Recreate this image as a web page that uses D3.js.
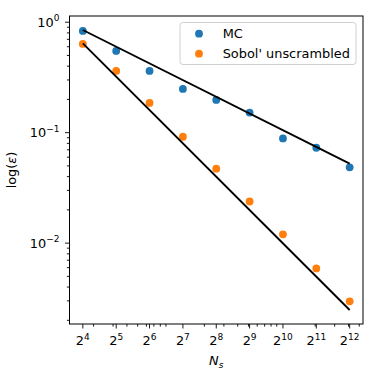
<!DOCTYPE html>
<html>
<head>
<meta charset="utf-8">
<script src="https://cdn.jsdelivr.net/npm/d3@7"></script>
<style>
  body { margin: 0; background: #fff; }
  text { font-family: "DejaVu Sans", sans-serif; }
</style>
</head>
<body>
<script>
// sample sizes (N_s)
const sampleSizes = [16, 32, 64, 128, 256, 512, 1024, 2048, 4096];

// error of plain Monte Carlo
const mcError = [0.833, 0.55, 0.362, 0.249, 0.198, 0.152, 0.0887, 0.073, 0.0485];

// error of unscrambled Sobol'
const sobolError = [0.636, 0.362, 0.186, 0.0918, 0.0472, 0.0238, 0.012, 0.0059, 0.00297];

// fitted reference lines, at the first and last sample size
const fitSizes = [16, 4096];
const mcFit = [0.85, 0.0524];
const sobolFit = [0.643, 0.00248];

const seriesNames = ["MC", "Sobol' unscrambled"];
const colors = ["#1f77b4", "#ff7f0e"];

const xTickExponents = [4, 5, 6, 7, 8, 9, 10, 11, 12];
const yTickExponents = [-2, -1, 0];

const width = 384,
  height = 384;
const margin = { top: 16, right: 21, bottom: 60, left: 69.5 };
const fs = 12.9;

const svg = d3
  .select("body")
  .append("svg")
  .attr("width", width)
  .attr("height", height);

// matplotlib style autoscale: 5% margin in log space
function logPad(vals, base) {
  const lo = Math.log(d3.min(vals)) / Math.log(base),
    hi = Math.log(d3.max(vals)) / Math.log(base);
  const m = (hi - lo) * 0.05;
  return [Math.pow(base, lo - m), Math.pow(base, hi + m)];
}

const allY = [...mcError, ...sobolError, ...mcFit, ...sobolFit];

const x = d3
  .scaleLog()
  .base(2)
  .domain(logPad(sampleSizes, 2))
  .range([margin.left, width - margin.right]);

const y = d3
  .scaleLog()
  .domain(logPad(allY, 10))
  .range([height - margin.bottom, margin.top]);

const x0 = margin.left,
  x1 = width - margin.right,
  y0 = margin.top,
  y1 = height - margin.bottom;

// minor ticks (base-10 subs on both axes)
function minorTicks(domain) {
  const out = [];
  for (let e = -4; e <= 4; e++) {
    for (let k = 2; k <= 9; k++) {
      const v = k * Math.pow(10, e);
      if (v >= domain[0] && v <= domain[1]) out.push(v);
    }
  }
  return out;
}

const ticks = svg.append("g").attr("stroke", "#000").attr("stroke-width", 0.9);

ticks
  .selectAll(".xminor")
  .data(minorTicks(x.domain()))
  .join("line")
  .attr("x1", (d) => x(d))
  .attr("x2", (d) => x(d))
  .attr("y1", y1)
  .attr("y2", y1 + 2.6);

ticks
  .selectAll(".xmajor")
  .data(xTickExponents)
  .join("line")
  .attr("x1", (d) => x(2 ** d))
  .attr("x2", (d) => x(2 ** d))
  .attr("y1", y1)
  .attr("y2", y1 + 4.5);

ticks
  .selectAll(".yminor")
  .data(minorTicks(y.domain()))
  .join("line")
  .attr("x1", x0)
  .attr("x2", x0 - 2.6)
  .attr("y1", (d) => y(d))
  .attr("y2", (d) => y(d));

ticks
  .selectAll(".ymajor")
  .data(yTickExponents)
  .join("line")
  .attr("x1", x0)
  .attr("x2", x0 - 4.5)
  .attr("y1", (d) => y(10 ** d))
  .attr("y2", (d) => y(10 ** d));

// tick labels with superscripts
const xLab = svg
  .selectAll(".xlab")
  .data(xTickExponents)
  .join("text")
  .attr("x", (d) => x(2 ** d))
  .attr("y", y1 + 21)
  .attr("text-anchor", "middle")
  .attr("font-size", fs);
xLab.append("tspan").text("2");
xLab
  .append("tspan")
  .attr("dy", -5.5)
  .attr("font-size", fs * 0.7)
  .text((d) => d);

const yLab = svg
  .selectAll(".ylab")
  .data(yTickExponents)
  .join("text")
  .attr("x", x0 - 10)
  .attr("y", (d) => y(10 ** d) + 4.5)
  .attr("text-anchor", "end")
  .attr("font-size", fs);
yLab.append("tspan").text("10");
yLab
  .append("tspan")
  .attr("dy", -5.5)
  .attr("font-size", fs * 0.7)
  .text((d) => (d < 0 ? "\u2212" + -d : d));

// scatter points
const series = [mcError, sobolError];
series.forEach((vals, i) => {
  svg
    .append("g")
    .attr("fill", colors[i])
    .selectAll("circle")
    .data(vals)
    .join("circle")
    .attr("cx", (d, j) => x(sampleSizes[j]))
    .attr("cy", (d) => y(d))
    .attr("r", 3.9);
});

// fit lines
const line = d3
  .line()
  .x((d, j) => x(fitSizes[j]))
  .y((d) => y(d));

[mcFit, sobolFit].forEach((vals) => {
  svg
    .append("path")
    .attr("d", line(vals))
    .attr("fill", "none")
    .attr("stroke", "#000")
    .attr("stroke-width", 1.9);
});

// frame
svg
  .append("rect")
  .attr("x", x0)
  .attr("y", y0)
  .attr("width", x1 - x0)
  .attr("height", y1 - y0)
  .attr("fill", "none")
  .attr("stroke", "#000")
  .attr("stroke-width", 1);

// legend
const lx = 180,
  ly = 22.5;
const legend = svg.append("g").attr("transform", `translate(${lx},${ly})`);
legend
  .append("rect")
  .attr("width", 176)
  .attr("height", 42)
  .attr("rx", 3)
  .attr("fill", "#fff")
  .attr("fill-opacity", 0.8)
  .attr("stroke", "#d0d0d0")
  .attr("stroke-width", 1);

const item = legend
  .selectAll(".item")
  .data(seriesNames)
  .join("g")
  .attr("transform", (d, i) => `translate(0,${11.2 + i * 20})`);
item
  .append("circle")
  .attr("cx", 19)
  .attr("cy", 0)
  .attr("r", 3.9)
  .attr("fill", (d, i) => colors[i]);
item
  .append("text")
  .attr("x", 42.7)
  .attr("y", 4.6)
  .attr("font-size", fs)
  .text((d) => d);

// axis labels
const xTitle = svg
  .append("text")
  .attr("x", (x0 + x1) / 2)
  .attr("y", 365)
  .attr("text-anchor", "middle")
  .attr("font-size", fs)
  .attr("font-style", "italic");
xTitle.append("tspan").text("N");
xTitle
  .append("tspan")
  .attr("dy", 3)
  .attr("font-size", fs * 0.7)
  .text("s");

const yTitle = svg
  .append("text")
  .attr("transform", `translate(16,${(y0 + y1) / 2}) rotate(-90)`)
  .attr("text-anchor", "middle")
  .attr("font-size", fs);
yTitle.append("tspan").text("log(");
yTitle.append("tspan").attr("font-style", "italic").text("\u03b5");
yTitle.append("tspan").text(")");
</script>
</body>
</html>
